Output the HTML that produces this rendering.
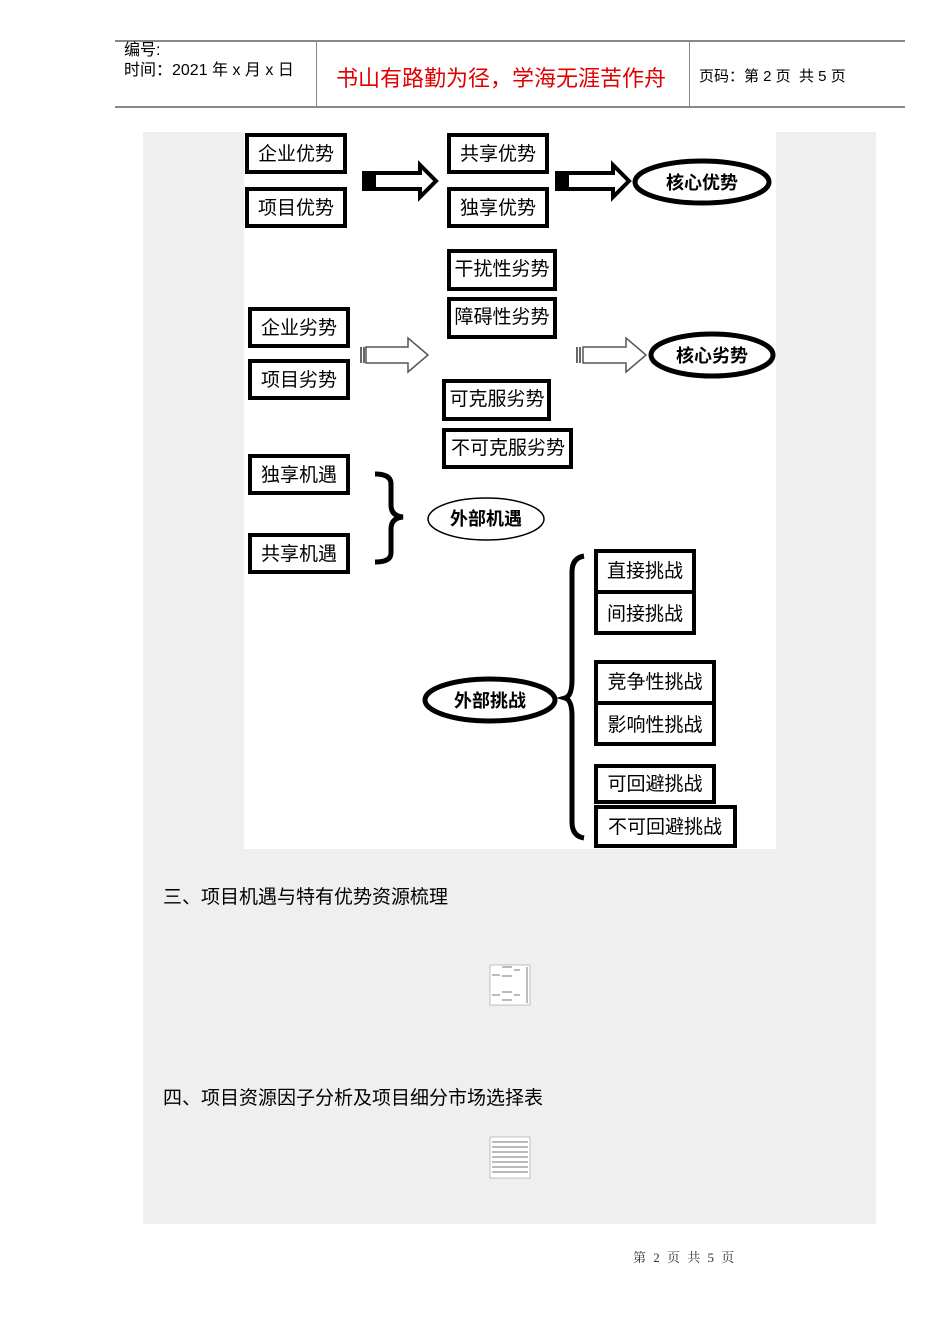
<!DOCTYPE html>
<html><head><meta charset="utf-8"><style>
body{margin:0;width:950px;height:1344px;background:#fff;position:relative;font-family:"Liberation Sans","Noto Sans CJK SC",sans-serif;overflow:hidden}
.a{position:absolute;white-space:nowrap}
</style></head><body>
<div class="a" style="left:115px;top:40px;width:790px;height:2px;background:#888"></div>
<div class="a" style="left:115px;top:106px;width:790px;height:2px;background:#888"></div>
<div class="a" style="left:316px;top:40px;width:1px;height:67px;background:#888"></div>
<div class="a" style="left:689px;top:40px;width:1px;height:67px;background:#888"></div>
<div class="a" style="left:124px;top:41px;font-size:16px;line-height:20px">编号:<br>时间：2021 年 x 月 x 日</div>
<div class="a" style="left:336px;top:61px;font-size:22px;color:#e00000">书山有路勤为径，学海无涯苦作舟</div>
<div class="a" style="left:699px;top:65px;font-size:15px">页码：第 2 页 &nbsp;共 5 页</div>
<div class="a" style="left:143px;top:132px;width:733px;height:1092px;background:#efefef"></div>
<svg class="a" style="left:0;top:0" width="950" height="1344" font-family="Liberation Sans,Noto Sans CJK SC,sans-serif">
<rect x="244" y="132" width="532" height="717" fill="#fff"/>
<g fill="#fff" stroke="#000" stroke-width="4">
<rect x="247" y="135" width="98" height="37"/><rect x="247" y="189" width="98" height="37"/>
<rect x="449" y="135" width="98" height="37"/><rect x="449" y="189" width="98" height="37"/>
<rect x="449" y="251" width="106" height="38"/><rect x="449" y="299" width="106" height="38"/>
<rect x="250" y="309" width="98" height="37"/><rect x="250" y="361" width="98" height="37"/>
<rect x="444" y="381" width="105" height="38"/><rect x="444" y="430" width="127" height="37"/>
<rect x="250" y="456" width="98" height="37"/><rect x="250" y="535" width="98" height="37"/>
<rect x="596" y="551" width="98" height="82"/><line x1="596" y1="592" x2="694" y2="592"/>
<rect x="596" y="662" width="118" height="82"/><line x1="596" y1="703" x2="714" y2="703"/>
<rect x="596" y="766" width="118" height="36"/><rect x="596" y="807" width="139" height="39"/>
</g>
<g font-size="19" text-anchor="middle">
<text x="296" y="160">企业优势</text><text x="296" y="214">项目优势</text>
<text x="498" y="160">共享优势</text><text x="498" y="214">独享优势</text>
<text x="502" y="275">干扰性劣势</text><text x="502" y="323">障碍性劣势</text>
<text x="299" y="334">企业劣势</text><text x="299" y="386">项目劣势</text>
<text x="497" y="405">可克服劣势</text><text x="508" y="454">不可克服劣势</text>
<text x="299" y="481">独享机遇</text><text x="299" y="560">共享机遇</text>
<text x="645" y="577">直接挑战</text><text x="645" y="620">间接挑战</text>
<text x="655" y="688">竞争性挑战</text><text x="655" y="731">影响性挑战</text>
<text x="655" y="790">可回避挑战</text><text x="665" y="833">不可回避挑战</text>
</g>
<path d="M364 173H420V165L436 181L420 197V189H364Z" fill="#fff" stroke="#000" stroke-width="4"/>
<rect x="362" y="171" width="14" height="20" fill="#000"/>
<path d="M557 173H613V165L629 181L613 197V189H557Z" fill="#fff" stroke="#000" stroke-width="4"/>
<rect x="555" y="171" width="14" height="20" fill="#000"/>
<path d="M366 347H408V338L428 355L408 372V363H366Z" fill="#fff" stroke="#555" stroke-width="1.5"/>
<path d="M361 347v16M364 347v16" stroke="#333" stroke-width="1.5"/>
<path d="M583 347H626V338L646 355L626 372V363H583Z" fill="#fff" stroke="#555" stroke-width="1.5"/>
<path d="M577 347v16M580 347v16" stroke="#333" stroke-width="1.5"/>
<g fill="#fff" stroke="#000">
<ellipse cx="702" cy="182" rx="67" ry="21" stroke-width="5"/>
<ellipse cx="712" cy="355" rx="61" ry="21" stroke-width="5"/>
<ellipse cx="486" cy="519" rx="58" ry="21" stroke-width="1.5"/>
<ellipse cx="490" cy="700" rx="65" ry="21" stroke-width="5"/>
</g>
<g font-size="18" font-weight="bold" text-anchor="middle">
<text x="702" y="189">核心优势</text><text x="712" y="362">核心劣势</text>
<text x="486" y="525">外部机遇</text><text x="490" y="707">外部挑战</text>
</g>
<path d="M375 474Q391 474 391 484V505Q391 516 403 517Q391 518 391 529V553Q391 562 375 562" fill="none" stroke="#000" stroke-width="5"/>
<path d="M584 556Q572 558 572 572V680Q572 696 565 698Q572 700 572 716V822Q572 836 584 838" fill="none" stroke="#000" stroke-width="5"/>
<g fill="#fff" stroke="#888" stroke-width="0.5"><rect x="490" y="965" width="40" height="40"/><rect x="490" y="1137" width="40" height="41"/></g>
<g stroke="#777" stroke-width="1"><path d="M492 975h8M502 967h10M502 976h10M514 970h6M492 995h8M502 992h10M502 1000h10M514 995h6M527 967v36"/>
<path d="M492 1142h36M492 1147h36M492 1152h36M492 1157h36M492 1162h36M492 1167h36M492 1172h36"/></g>
</svg>
<div class="a" style="left:163px;top:882px;font-size:19px">三、项目机遇与特有优势资源梳理</div>
<div class="a" style="left:163px;top:1083px;font-size:19px">四、项目资源因子分析及项目细分市场选择表</div>
<div class="a" style="left:633px;top:1247px;font-size:13px;font-family:'Liberation Serif','Noto Serif CJK SC',serif;color:#333;word-spacing:4px">第&nbsp;2&nbsp;页&nbsp;共&nbsp;5&nbsp;页</div>
</body></html>
